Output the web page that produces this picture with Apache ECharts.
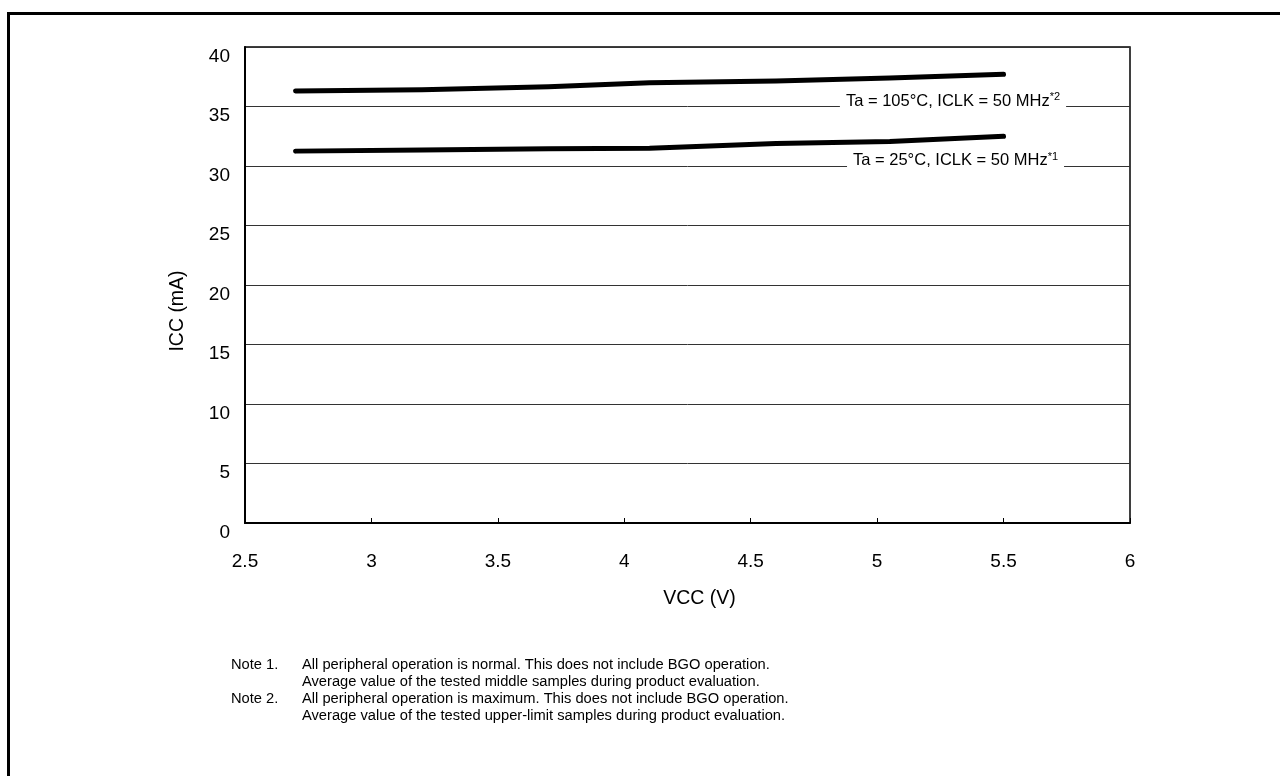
<!DOCTYPE html>
<html><head><meta charset="utf-8">
<script src="https://cdn.jsdelivr.net/npm/echarts@6/dist/echarts.min.js"></script>
<style>html,body{margin:0;padding:0;background:#fff}#c{width:1280px;height:776px}</style>
</head><body><div id="c"></div>
<script>
const vcc = [2.7, 3.2, 3.7, 4.1, 4.6, 5.05, 5.5];
const icc105 = [36.3, 36.4, 36.65, 37.0, 37.15, 37.4, 37.7];
const icc25 = [31.25, 31.35, 31.45, 31.5, 31.9, 32.05, 32.5];
const label105 = 'Ta = 105°C, ICLK = 50 MHz';
const label25 = 'Ta = 25°C, ICLK = 50 MHz';
const xTicks = [2.5, 3, 3.5, 4, 4.5, 5, 5.5, 6];
const yTicks = [0, 5, 10, 15, 20, 25, 30, 35, 40];
const notes = [
  ['Note 1.', 'All peripheral operation is normal. This does not include BGO operation.'],
  ['', 'Average value of the tested middle samples during product evaluation.'],
  ['Note 2.', 'All peripheral operation is maximum. This does not include BGO operation.'],
  ['', 'Average value of the tested upper-limit samples during product evaluation.']
];
const FONT = '"Liberation Sans", Arial, sans-serif';
const chart = echarts.init(document.getElementById('c'));
function mkLabel(text, sup, x, y) {
  return {
    symbol: 'rect', symbolSize: 0,
    data: [{ coord: [x, y] }],
    label: {
      show: true, position: 'inside', offset: [0, -4.5],
      formatter: '{a|' + text + '}{s|' + sup + '}',
      backgroundColor: '#fff', padding: [1, 6, 3, 6],
      rich: {
        a: { fontFamily: FONT, fontSize: 16.5, color: '#000' },
        s: { fontFamily: FONT, fontSize: 11, color: '#000', padding: [0, 0, 8, 0] }
      }
    }
  };
}
const graphics = [
  { type: 'line', shape: { x1: 8.5, y1: 13.5, x2: 1280, y2: 13.5 }, style: { stroke: '#000', lineWidth: 3 } },
  { type: 'line', shape: { x1: 8.5, y1: 12, x2: 8.5, y2: 776 }, style: { stroke: '#000', lineWidth: 3 } },
  { type: 'text', x: 178, y: 311, rotation: Math.PI / 2,
    style: { text: 'ICC (mA)', font: '19.5px ' + FONT, fill: '#000', textAlign: 'center', textVerticalAlign: 'middle' } }
];
notes.forEach((n, i) => {
  graphics.push({ type: 'text', left: 231, top: 657 + i * 17, style: { text: n[0], font: '14.7px ' + FONT, fill: '#000' } });
  graphics.push({ type: 'text', left: 302, top: 657 + i * 17, style: { text: n[1], font: '14.7px ' + FONT, fill: '#000' } });
});
chart.setOption({
  animation: false,
  grid: { left: 245, top: 47, right: 150, bottom: 253, show: true, borderColor: '#000', borderWidth: 1.5 },
  xAxis: {
    type: 'value', min: 2.5, max: 6, interval: 0.5,
    name: 'VCC (V)', nameLocation: 'middle', nameGap: 66,
    nameTextStyle: { fontFamily: FONT, fontSize: 19.5, color: '#000', padding: [0, 0, 0, 24] },
    axisLine: { lineStyle: { color: '#000', width: 2 } },
    axisTick: { inside: true, length: 5, lineStyle: { color: '#000', width: 1 } },
    axisLabel: { margin: 29, fontFamily: FONT, fontSize: 19, color: '#000',
      formatter: v => xTicks.includes(v) ? String(v) : '' },
    splitLine: { show: false }
  },
  yAxis: {
    type: 'value', min: 0, max: 40, interval: 5,
    axisLine: { show: true, lineStyle: { color: '#000', width: 2 } },
    axisTick: { show: false },
    axisLabel: { margin: 15, fontFamily: FONT, fontSize: 19, color: '#000', verticalAlign: 'top',
      formatter: v => yTicks.includes(v) ? String(v) : '' },
    splitLine: { lineStyle: { color: '#333', width: 1 } }
  },
  graphic: graphics,
  series: [
    { type: 'line', data: vcc.map((x, i) => [x, icc105[i]]), symbol: 'none', z: 5,
      lineStyle: { color: '#000', width: 5, cap: 'round', join: 'round' },
      markPoint: mkLabel(label105, '*2', 5.3, 35) },
    { type: 'line', data: vcc.map((x, i) => [x, icc25[i]]), symbol: 'none', z: 5,
      lineStyle: { color: '#000', width: 5, cap: 'round', join: 'round' },
      markPoint: mkLabel(label25, '*1', 5.31, 30) }
  ]
});
</script></body></html>
